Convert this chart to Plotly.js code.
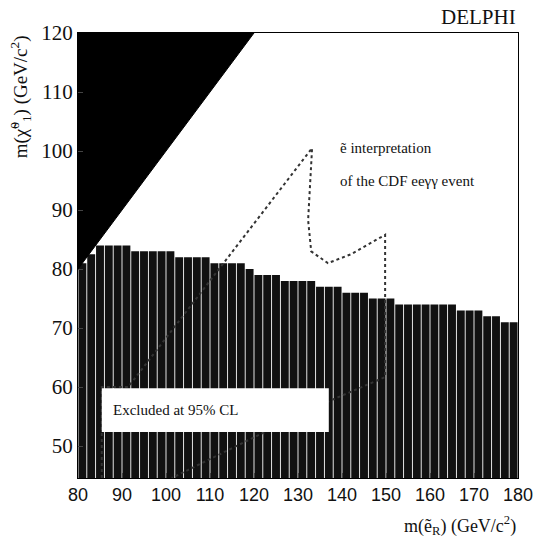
<!DOCTYPE html>
<html>
<head>
<meta charset="utf-8">
<script src="https://cdn.plot.ly/plotly-3.0.1.min.js"></script>
<style>body{margin:0;background:#fff}</style>
</head>
<body>
<div id="chart" style="width:549px;height:543px"></div>
<script>
// excluded region, 2 GeV bins
const binCentres = [81,83,85,87,89,91,93,95,97,99,101,103,105,107,109,111,113,115,117,119,
  121,123,125,127,129,131,133,135,137,139,141,143,145,147,149,151,153,155,157,159,
  161,163,165,167,169,171,173,175,177,179]
const excludedLimit = [81,82.5,84,84,84,84,83,83,83,83,83,82,82,82,82,81,81,81,81,80,
  79,79,79,78,78,78,78,77,77,77,76,76,76,75,75,75,74,74,74,74,
  74,74,74,73,73,73,72,72,71,71]

// kinematic limit m(chi) > m(e)
const kinX = [80, 80, 120, 80]
const kinY = [80, 120, 120, 80]

// CDF event contour
const cdfX = [85.4,85.4,91.4,133.2,132.3,133,136.8,142,149.8,149.8,137.6,121.4,101.3]
const cdfY = [44.6,60,60,100.5,88.3,83,81,82.5,85.8,61.7,57.8,52,44.6]

const serif = 'Liberation Serif, Times New Roman, serif'

let bars = {
  x: binCentres, y: excludedLimit, type: 'bar', width: 1.8,
  marker: {color: '#111'}, hoverinfo: 'skip'
}
let kin = {
  x: kinX, y: kinY, mode: 'lines', fill: 'toself', fillcolor: '#000',
  line: {color: '#000', width: 1}
}
let cdf = {
  x: cdfX, y: cdfY, mode: 'lines',
  line: {color: '#333', width: 2, dash: 'dot'}
}

let layout = {
  width: 549, height: 543, showlegend: false,
  margin: {l: 78, r: 31, t: 33, b: 65},
  paper_bgcolor: '#fff', plot_bgcolor: '#fff',
  xaxis: {range: [80, 180], dtick: 10, ticks: 'inside', ticklen: 5, mirror: true,
    showline: true, linecolor: '#000', showgrid: false, zeroline: false,
    tickfont: {family: 'Liberation Sans, Arial', size: 18, color: '#111'}},
  yaxis: {range: [44.6, 120], dtick: 10, tick0: 0, ticks: 'inside', ticklen: 5, mirror: true,
    showline: true, linecolor: '#000', showgrid: false, zeroline: false,
    tickfont: {family: serif, size: 21, color: '#111'}},
  shapes: [
    {type: 'rect', xref: 'x', yref: 'y', x0: 85.4, x1: 137, y0: 52.4, y1: 59.8,
      fillcolor: '#fff', line: {width: 0}, layer: 'above'}
  ],
  annotations: [
    {text: 'Excluded at 95% CL', x: 87.5, y: 56.1, xref: 'x', yref: 'y', xanchor: 'left',
      showarrow: false, font: {family: serif, size: 15, color: '#111'}},
    {text: 'DELPHI', x: 1, y: 1.005, xref: 'paper', yref: 'paper', xanchor: 'right', yanchor: 'bottom',
      showarrow: false, font: {family: serif, size: 21, color: '#111'}},
    {text: 'ẽ interpretation', x: 139, y: 100.5, xref: 'x', yref: 'y', xanchor: 'left',
      showarrow: false, font: {family: serif, size: 15, color: '#111'}},
    {text: 'of the CDF eeγγ event', x: 139, y: 95, xref: 'x', yref: 'y', xanchor: 'left',
      showarrow: false, font: {family: serif, size: 15, color: '#111'}},
    {text: 'm(ẽ<sub>R</sub>) (GeV/c<sup>2</sup>)', x: 1, y: -0.075, xref: 'paper', yref: 'paper',
      xanchor: 'right', yanchor: 'top', showarrow: false, font: {family: serif, size: 18, color: '#111'}},
    {text: 'm(χ̃<sup>0</sup><sub>1</sub>) (GeV/c<sup>2</sup>)', x: -0.13, y: 1.0, xref: 'paper', yref: 'paper',
      xanchor: 'center', yanchor: 'top', textangle: -90, showarrow: false,
      font: {family: serif, size: 19, color: '#111'}}
  ]
}

Plotly.newPlot('chart', [bars, kin, cdf], layout, {staticPlot: true})
</script>
</body>
</html>
